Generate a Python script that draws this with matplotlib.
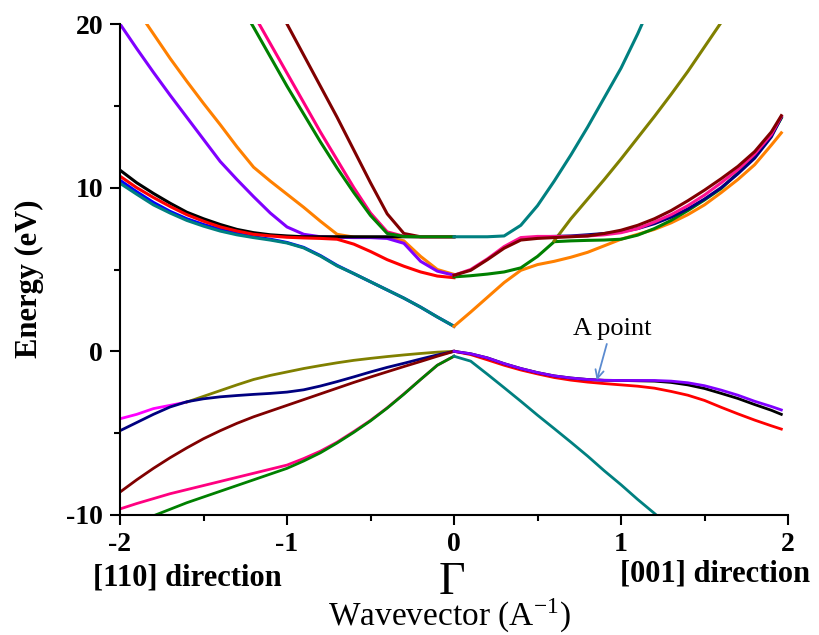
import numpy as np
import matplotlib
matplotlib.use('Agg')
import matplotlib.pyplot as plt
from matplotlib.ticker import MultipleLocator

nan = np.nan

# wavevector grids: [110] side (negative) and [001] side (positive)
kL = [-2.0, -1.9, -1.8, -1.7, -1.6, -1.5, -1.4, -1.3, -1.2, -1.1, -1.0,
      -0.9, -0.8, -0.7, -0.6, -0.5, -0.4, -0.3, -0.2, -0.1, 0.0]
kR = [0.0, 0.1, 0.2, 0.3, 0.4, 0.5, 0.6, 0.7, 0.8, 0.9, 1.0,
      1.1, 1.2, 1.3, 1.4, 1.5, 1.6, 1.7, 1.8, 1.9, 1.96]

# conduction bands, [110] side
purple_L = [20.0, 18.5, 17.05, 15.65, 14.3, 12.95, 11.6, 10.5, 9.45, 8.45, 7.6,
            7.15, 7.0, 6.97, 6.95, 6.95, 6.9, 6.6, 5.5, 4.9, 4.65]
orange_L = [22.4, 20.9, 19.4, 17.9, 16.5, 15.15, 13.85, 12.5, 11.25, 10.4, 9.6,
            8.8, 7.95, 7.15, 6.98, 6.96, 6.95, 6.75, 5.8, 5.0, 4.7]
green_L = [nan, nan, nan, nan, nan, nan, 23.2, 21.5, 19.8, 18.0, 16.2,
           14.5, 12.8, 11.2, 9.7, 8.3, 7.2, 7.02, 7.0, 7.0, 7.0]
pink_L = [nan, nan, nan, nan, nan, nan, nan, 22.3, 20.6, 18.8, 17.0,
          15.2, 13.4, 11.7, 10.0, 8.45, 7.3, 7.03, 7.0, 7.0, 7.0]
maroon_L = [nan, nan, nan, nan, nan, nan, nan, nan, nan, 21.9, 20.0,
            18.1, 16.2, 14.3, 12.3, 10.3, 8.4, 7.2, 7.0, 7.0, 7.0]
black_L = [11.07, 10.3, 9.65, 9.05, 8.5, 8.1, 7.75, 7.45, 7.25, 7.12, 7.05,
           7.0, 7.0, 7.0, 7.0, 7.0, 7.0, 7.0, 7.0, 7.0, 7.0]
red_L = [10.7, 10.0, 9.4, 8.85, 8.35, 7.95, 7.6, 7.35, 7.15, 7.05, 6.97,
         6.93, 6.9, 6.85, 6.55, 6.1, 5.6, 5.2, 4.85, 4.6, 4.5]
blue_L = [10.45, 9.75, 9.1, 8.55, 8.1, 7.75, 7.45, 7.2, 7.0, 6.85, 6.65,
          6.35, 5.85, 5.25, 4.75, 4.25, 3.75, 3.25, 2.7, 2.1, 1.53]
teal_L = [10.27, 9.6, 8.95, 8.45, 8.0, 7.65, 7.35, 7.12, 6.95, 6.8, 6.62,
          6.32, 5.82, 5.22, 4.75, 4.25, 3.75, 3.25, 2.7, 2.1, 1.53]

# conduction bands, [001] side
teal_R = [7.0, 7.0, 7.0, 7.05, 7.7, 8.9, 10.4, 12.0, 13.7, 15.5, 17.3,
          19.4, 21.7, nan, nan, nan, nan, nan, nan, nan, nan]
olive_R = [nan, nan, nan, nan, nan, nan, 6.75, 8.1, 9.3, 10.5, 11.75,
           13.05, 14.35, 15.7, 17.1, 18.6, 20.1, 21.6, nan, nan, nan]
orange_R = [1.53, 2.4, 3.3, 4.2, 4.95, 5.3, 5.5, 5.75, 6.05, 6.45, 6.85,
            7.15, 7.45, 7.85, 8.35, 8.95, 9.7, 10.5, 11.4, 12.6, 13.35]
green_R = [4.55, 4.62, 4.72, 4.85, 5.1, 5.8, 6.7, 6.75, 6.78, 6.8, 6.85,
           7.1, 7.5, 8.0, 8.6, 9.25, 9.95, 10.9, 11.9, 13.2, 14.25]
navy_R = [nan, nan, nan, nan, nan, 7.0, 7.02, 7.05, 7.12, 7.2, 7.3,
          7.5, 7.8, 8.2, 8.7, 9.3, 10.0, 10.85, 11.8, 13.1, 14.3]
pink_R = [4.65, 5.0, 5.65, 6.4, 6.95, 7.02, 7.02, 7.02, 7.05, 7.12, 7.25,
          7.5, 7.9, 8.35, 8.9, 9.55, 10.3, 11.1, 12.05, 13.25, 14.35]
maroon_R = [4.65, 4.95, 5.6, 6.3, 6.8, 6.9, 6.95, 7.0, 7.05, 7.2, 7.4,
            7.7, 8.1, 8.6, 9.2, 9.85, 10.55, 11.3, 12.2, 13.4, 14.4]

# valence bands, [110] side
magenta_Lv = [-4.12, -3.85, -3.5, -3.3, -3.1, nan, nan, nan, nan, nan, nan,
              nan, nan, nan, nan, nan, nan, nan, nan, nan, nan]
olive_Lv = [nan, nan, nan, nan, -3.1, -2.75, -2.4, -2.05, -1.72, -1.47, -1.26,
            -1.05, -0.87, -0.7, -0.55, -0.43, -0.32, -0.22, -0.13, -0.05, 0.0]
navy_Lv = [-4.85, -4.35, -3.85, -3.4, -3.08, -2.9, -2.78, -2.7, -2.63, -2.57, -2.49,
           -2.35, -2.12, -1.85, -1.56, -1.26, -0.98, -0.73, -0.47, -0.22, 0.0]
maroon_Lv = [-8.6, -7.85, -7.15, -6.5, -5.9, -5.34, -4.85, -4.4, -4.0, -3.65, -3.3,
             -2.95, -2.6, -2.25, -1.9, -1.57, -1.25, -0.93, -0.62, -0.3, 0.0]
pink_Lv = [-9.63, -9.3, -9.0, -8.7, -8.45, -8.2, -7.95, -7.7, -7.45, -7.2, -6.95,
           -6.55, -6.1, -5.55, -4.9, -4.22, -3.45, -2.6, -1.72, -0.85, -0.3]
green_Lv = [-10.85, -10.45, -10.05, -9.65, -9.25, -8.9, -8.55, -8.2, -7.85, -7.5, -7.15,
            -6.7, -6.2, -5.6, -4.95, -4.25, -3.47, -2.62, -1.72, -0.85, -0.3]

# valence bands, [001] side
teal_Rv = [-0.3, -0.6, -1.4, -2.22, -3.05, -3.9, -4.72, -5.55, -6.4, -7.3, -8.15,
           -9.05, -9.9, -10.8, nan, nan, nan, nan, nan, nan, nan]
red_Rv = [0.0, -0.2, -0.52, -0.85, -1.14, -1.38, -1.6, -1.76, -1.88, -1.97, -2.05,
          -2.13, -2.25, -2.45, -2.68, -3.0, -3.42, -3.82, -4.2, -4.55, -4.75]
black_Rv = [0.0, -0.15, -0.4, -0.75, -1.05, -1.3, -1.5, -1.63, -1.72, -1.77, -1.78,
            -1.8, -1.82, -1.9, -2.05, -2.27, -2.57, -2.88, -3.25, -3.6, -3.85]
purple_Rv = [0.0, -0.15, -0.4, -0.75, -1.05, -1.3, -1.5, -1.63, -1.72, -1.77, -1.78,
             -1.78, -1.78, -1.82, -1.92, -2.1, -2.37, -2.68, -3.05, -3.37, -3.58]

xticks = [-2, -1, 0, 1, 2]
yticks = [-10, 0, 10, 20]

plt.rcParams['font.family'] = ['Liberation Serif', 'DejaVu Serif']
plt.rcParams['mathtext.fontset'] = 'stix'
plt.rcParams['axes.unicode_minus'] = False

fig = plt.figure(figsize=(8.19, 6.35), dpi=100)
ax = fig.add_axes([120/819, 1 - 515/635, 668/819, 491/635])

lw = 2.2
lwv = 2.0
# [110] conduction
ax.plot(kL, orange_L, color='#ff8000', lw=lw)
ax.plot(kL, purple_L, color='#8000ff', lw=lw)
ax.plot(kL, black_L, color='k', lw=lw)
ax.plot(kL, blue_L, color='#0000ff', lw=lw)
ax.plot(kL, teal_L, color='#008080', lw=lw)
ax.plot(kL, red_L, color='#ff0000', lw=lw)
ax.plot(kL, maroon_L, color='#800000', lw=lw)
ax.plot(kL, pink_L, color='#ff0080', lw=lw)
ax.plot(kL, green_L, color='#008000', lw=lw)
# [001] conduction
ax.plot(kR, orange_R, color='#ff8000', lw=lw)
ax.plot(kR, green_R, color='#008000', lw=lw)
ax.plot(kR, olive_R, color='#808000', lw=lw)
ax.plot(kR, navy_R, color='#000080', lw=lw)
ax.plot(kR, pink_R, color='#ff1493', lw=lw)
ax.plot(kR, maroon_R, color='#800000', lw=lw)
ax.plot(kR, teal_R, color='#008080', lw=lw)
# [110] valence
ax.plot(kL, magenta_Lv, color='#ff00ff', lw=lwv)
ax.plot(kL, olive_Lv, color='#808000', lw=lwv)
ax.plot(kL, navy_Lv, color='#000080', lw=lwv)
ax.plot(kL, maroon_Lv, color='#800000', lw=lwv)
ax.plot(kL, pink_Lv, color='#ff0080', lw=lwv)
ax.plot(kL, green_Lv, color='#008000', lw=lwv)
# [001] valence
ax.plot(kR, teal_Rv, color='#008080', lw=lwv)
ax.plot(kR, red_Rv, color='#ff0000', lw=lwv)
ax.plot(kR, black_Rv, color='k', lw=lwv)
ax.plot(kR, purple_Rv, color='#8000ff', lw=lwv)

ax.set_xlim(-2, 2)
ax.set_ylim(-10, 20)
ax.set_xticks(xticks)
ax.set_yticks(yticks)
ax.xaxis.set_minor_locator(MultipleLocator(0.5))
ax.yaxis.set_minor_locator(MultipleLocator(5))
ax.tick_params(which='major', direction='out', length=7.2, width=1.5, labelsize=20, pad=5)
ax.tick_params(which='minor', direction='out', length=4.3, width=1.5)
for lab in ax.get_xticklabels() + ax.get_yticklabels():
    lab.set_fontweight('bold')
ax.spines['top'].set_visible(False)
ax.spines['right'].set_visible(False)
ax.spines['left'].set_linewidth(1.5)
ax.spines['bottom'].set_linewidth(1.5)

# A point annotation
ax.annotate('', xy=(0.855, -1.77), xytext=(0.915, 0.45),
            arrowprops=dict(arrowstyle='->,head_length=0.6,head_width=0.3',
                            color='#5b8bd0', lw=1.3, shrinkA=0, shrinkB=0))
ax.text(0.713, 0.98, 'A point', fontsize=19, ha='left', va='baseline')

fig.text(29/819, 1 - 279/635, 'Energy (eV)', rotation=90, fontsize=22,
         fontweight='bold', ha='center', va='center')
fig.text(187/819, 1 - 585/635, '[110] direction', fontsize=22,
         fontweight='bold', ha='center', va='baseline')
fig.text(715/819, 1 - 582/635, '[001] direction', fontsize=22,
         fontweight='bold', ha='center', va='baseline')
fig.text(452/819, 1 - 594/635, '\u0393', fontsize=33, ha='center', va='baseline')
fig.text(450/819, 1 - 625/635, 'Wavevector (A$^{\\mathregular{-1}}$)', fontsize=24,
         ha='center', va='baseline')

fig.savefig('out.png', dpi=100)
